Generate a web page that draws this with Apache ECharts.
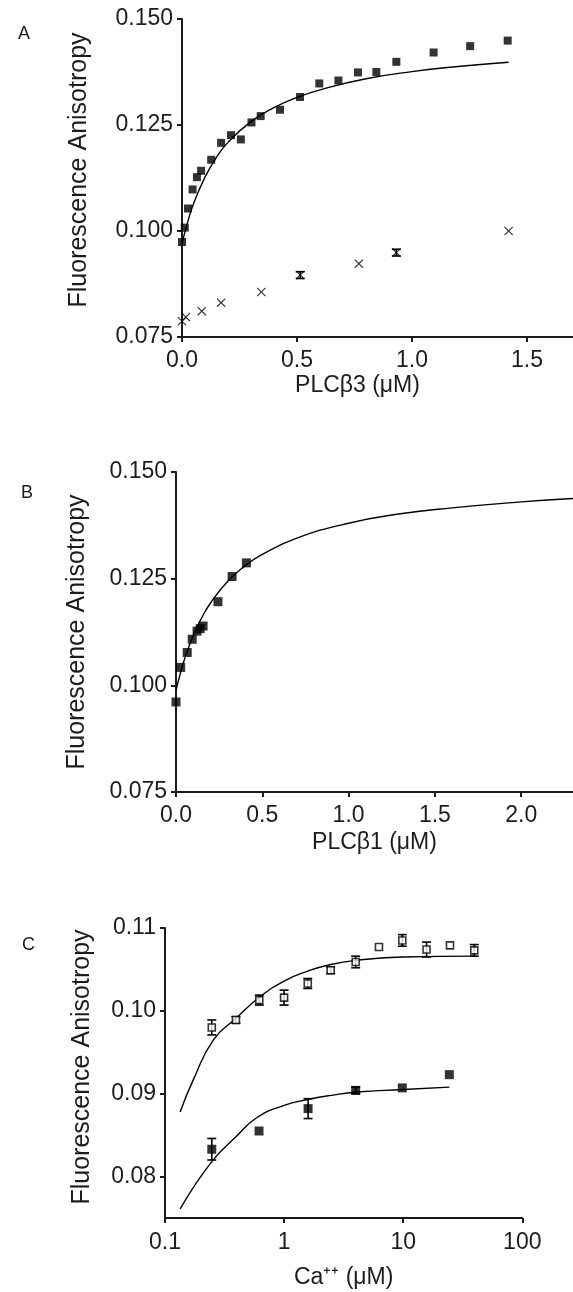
<!DOCTYPE html>
<html>
<head>
<meta charset="utf-8">
<script src="https://cdn.jsdelivr.net/npm/echarts@6/dist/echarts.min.js"></script>
<style>
  html, body { margin: 0; padding: 0; background: #fff; }
  #chart { width: 573px; height: 1292px; }
</style>
</head>
<body>
<div id="chart"></div>
<script>
// panel A: PLCb3 titration
const aSqX = [0, 0.012, 0.026, 0.046, 0.065, 0.083, 0.127, 0.170, 0.213, 0.256, 0.302, 0.342, 0.426, 0.513, 0.597, 0.680, 0.765, 0.845, 0.932, 1.094, 1.253, 1.416]
const aSqY = [0.0974, 0.1008, 0.1053, 0.1098, 0.1127, 0.1142, 0.1168, 0.1208, 0.1226, 0.1216, 0.1256, 0.1271, 0.1286, 0.1316, 0.1348, 0.1355, 0.1374, 0.1375, 0.1399, 0.1421, 0.1436, 0.1449]
const aFitX = [0, 0.02, 0.05, 0.1, 0.15, 0.2, 0.3, 0.4, 0.5, 0.6, 0.8, 1.0, 1.2, 1.42]
const aFitY = [0.0970, 0.1012, 0.1064, 0.1127, 0.1174, 0.1209, 0.1258, 0.1291, 0.1315, 0.1333, 0.1359, 0.1376, 0.1388, 0.1398]
const aXsX = [0, 0.017, 0.086, 0.170, 0.345, 0.514, 0.769, 0.932, 1.420]
const aXsY = [0.0787, 0.0797, 0.0811, 0.0831, 0.0856, 0.0896, 0.0923, 0.0949, 0.1000]
const aXsErr = [0, 0, 0, 0, 0, 0.0008, 0, 0.0008, 0]

// panel B: PLCb1 titration
const bSqX = [0, 0.027, 0.065, 0.094, 0.122, 0.140, 0.157, 0.243, 0.325, 0.408]
const bSqY = [0.0961, 0.1042, 0.1077, 0.1108, 0.1127, 0.1133, 0.1139, 0.1196, 0.1255, 0.1287]
const bFitX = [0, 0.02, 0.05, 0.1, 0.15, 0.2, 0.3, 0.4, 0.5, 0.7, 1.0, 1.3, 1.6, 2.0, 2.3]
const bFitY = [0.0988, 0.1020, 0.1062, 0.1117, 0.1159, 0.1193, 0.1244, 0.1280, 0.1307, 0.1345, 0.1380, 0.1402, 0.1416, 0.1430, 0.1438]

// panel C: Ca++ dependence
const cOpenX = [0.247, 0.394, 0.619, 1.0, 1.58, 2.46, 3.99, 6.26, 9.83, 15.7, 24.7, 39.5]
const cOpenY = [0.0980, 0.0989, 0.1013, 0.1016, 0.1033, 0.1049, 0.1059, 0.1077, 0.1085, 0.1074, 0.1079, 0.1073]
const cOpenErr = [0.0009, 0.0004, 0.0006, 0.0009, 0.0006, 0.0004, 0.0007, 0, 0.0007, 0.0009, 0, 0.0007]
const cFillX = [0.247, 0.616, 1.59, 3.99, 9.83, 24.4]
const cFillY = [0.0833, 0.0855, 0.0882, 0.0904, 0.0907, 0.0923]
const cFillErr = [0.0013, 0, 0.0012, 0.0004, 0, 0]
const cFitUX = [0.134, 0.173, 0.255, 0.394, 0.628, 1.0, 1.58, 2.46, 4.07, 10, 40]
const cFitUY = [0.0878, 0.0917, 0.0965, 0.0991, 0.1017, 0.1036, 0.1048, 0.1056, 0.1061, 0.1065, 0.1066]
const cFitLX = [0.134, 0.247, 0.394, 0.589, 1.0, 1.58, 2.49, 4.07, 10, 24.4]
const cFitLY = [0.0761, 0.0818, 0.0848, 0.0871, 0.0886, 0.0893, 0.0898, 0.0902, 0.0905, 0.0908]

const cYTicks = [0.08, 0.09, 0.10, 0.11]

const FONT = '"Liberation Sans", Arial, sans-serif'
const INK = '#1c1c1c'
const crossPath = 'path://M0,0.9L0.9,0L5,4.1L9.1,0L10,0.9L5.9,5L10,9.1L9.1,10L5,5.9L0.9,10L0,9.1L4.1,5Z'

function pairs(xs, ys) {
  return xs.map((x, i) => [x, ys[i]])
}

function labelStyle(extra) {
  return Object.assign({ color: INK, fontFamily: FONT, fontSize: 23 }, extra)
}

function axisBase(extra) {
  return Object.assign({
    axisLine: { show: true, onZero: false, lineStyle: { color: INK, width: 2 } },
    axisTick: { show: true, inside: false, length: 5, lineStyle: { color: INK, width: 2 } },
    splitLine: { show: false },
    nameLocation: 'middle'
  }, extra)
}

function scatter(xs, ys, idx, symbol, size, filled) {
  return {
    type: 'scatter',
    xAxisIndex: idx,
    yAxisIndex: idx,
    symbol: symbol,
    symbolSize: size,
    itemStyle: filled
      ? { color: '#000' }
      : { color: '#fff', borderColor: '#000', borderWidth: 1.6 },
    data: pairs(xs, ys),
    z: 3
  }
}

function fitLine(xs, ys, idx) {
  return {
    type: 'line',
    xAxisIndex: idx,
    yAxisIndex: idx,
    smooth: true,
    showSymbol: false,
    lineStyle: { color: '#000', width: 1.4 },
    data: pairs(xs, ys),
    z: 2
  }
}

function errorBars(xs, ys, errs, idx) {
  const data = xs.map((x, i) => [x, ys[i], errs[i]]).filter(d => d[2] > 0)
  return {
    type: 'custom',
    xAxisIndex: idx,
    yAxisIndex: idx,
    encode: { x: 0, y: 1 },
    data: data,
    z: 2,
    renderItem: function(params, api) {
      const x = api.value(0)
      const y = api.value(1)
      const e = api.value(2)
      const hi = api.coord([x, y + e])
      const lo = api.coord([x, y - e])
      const w = 4.5
      const st = { stroke: '#000', lineWidth: 1.6 }
      return {
        type: 'group',
        children: [
          { type: 'line', shape: { x1: hi[0], y1: hi[1], x2: lo[0], y2: lo[1] }, style: st },
          { type: 'line', shape: { x1: hi[0] - w, y1: hi[1], x2: hi[0] + w, y2: hi[1] }, style: st },
          { type: 'line', shape: { x1: lo[0] - w, y1: lo[1], x2: lo[0] + w, y2: lo[1] }, style: st }
        ]
      }
    }
  }
}

const chart = echarts.init(document.getElementById('chart'), null, { renderer: 'canvas' })

const option = {
  animation: false,
  backgroundColor: '#fff',
  graphic: [
    { type: 'text', left: 18, top: 25, style: { text: 'A', font: '18px ' + FONT, fill: INK } },
    { type: 'text', left: 21, top: 484, style: { text: 'B', font: '18px ' + FONT, fill: INK } },
    { type: 'text', left: 22, top: 936, style: { text: 'C', font: '18px ' + FONT, fill: INK } }
  ],
  grid: [
    { left: 182, top: 19, width: 393.6, height: 318 },
    { left: 176, top: 472, width: 401.6, height: 320 },
    { left: 165, top: 928, width: 357.3, height: 290 }
  ],
  xAxis: [
    axisBase({
      gridIndex: 0, type: 'value', min: 0, max: 1.7, interval: 0.5,
      name: 'PLCβ3 (μM)', nameGap: 37,
      nameTextStyle: labelStyle({ padding: [0, 40, 0, 0] }),
      axisLabel: labelStyle({ margin: 12, showMaxLabel: false, formatter: v => v.toFixed(1) })
    }),
    axisBase({
      gridIndex: 1, type: 'value', min: 0, max: 2.3, interval: 0.5,
      name: 'PLCβ1 (μM)', nameGap: 39,
      nameTextStyle: labelStyle(),
      axisLabel: labelStyle({ margin: 12, showMaxLabel: false, formatter: v => v.toFixed(1) })
    }),
    axisBase({
      gridIndex: 2, type: 'log', logBase: 10, min: 0.1, max: 100,
      name: 'Ca⁺⁺ (μM)', nameGap: 48,
      nameTextStyle: labelStyle(),
      minorTick: { show: false },
      axisLabel: labelStyle({ margin: 13, formatter: v => String(+(+v).toPrecision(3)) })
    })
  ],
  yAxis: [
    axisBase({
      gridIndex: 0, type: 'value', min: 0.075, max: 0.150, interval: 0.025,
      name: 'Fluorescence Anisotropy', nameGap: 90,
      nameTextStyle: labelStyle({ fontSize: 25, padding: [0, 0, 0, 16] }),
      axisLabel: labelStyle({ margin: 9, formatter: v => v.toFixed(3) })
    }),
    axisBase({
      gridIndex: 1, type: 'value', min: 0.075, max: 0.150, interval: 0.025,
      name: 'Fluorescence Anisotropy', nameGap: 86,
      nameTextStyle: labelStyle({ fontSize: 25 }),
      axisLabel: labelStyle({ margin: 9, formatter: v => v.toFixed(3) })
    }),
    axisBase({
      gridIndex: 2, type: 'value', min: 0.075, max: 0.11,
      name: 'Fluorescence Anisotropy', nameGap: 70,
      nameTextStyle: labelStyle({ fontSize: 25, padding: [0, 0, 0, 12] }),
      axisTick: { show: true, length: 5, lineStyle: { color: INK, width: 2 }, customValues: cYTicks },
      axisLabel: labelStyle({ margin: 9, customValues: cYTicks, formatter: v => v.toFixed(2) })
    })
  ],
  series: [
    fitLine(aFitX, aFitY, 0),
    scatter(aSqX, aSqY, 0, 'rect', 8, true),
    errorBars(aXsX, aXsY, aXsErr, 0),
    scatter(aXsX, aXsY, 0, crossPath, 9, true),

    fitLine(bFitX, bFitY, 1),
    scatter(bSqX, bSqY, 1, 'rect', 9, true),

    fitLine(cFitUX, cFitUY, 2),
    fitLine(cFitLX, cFitLY, 2),
    errorBars(cOpenX, cOpenY, cOpenErr, 2),
    errorBars(cFillX, cFillY, cFillErr, 2),
    scatter(cOpenX, cOpenY, 2, 'rect', 7, false),
    scatter(cFillX, cFillY, 2, 'rect', 9, true)
  ]
}

chart.setOption(option)
</script>
</body>
</html>
